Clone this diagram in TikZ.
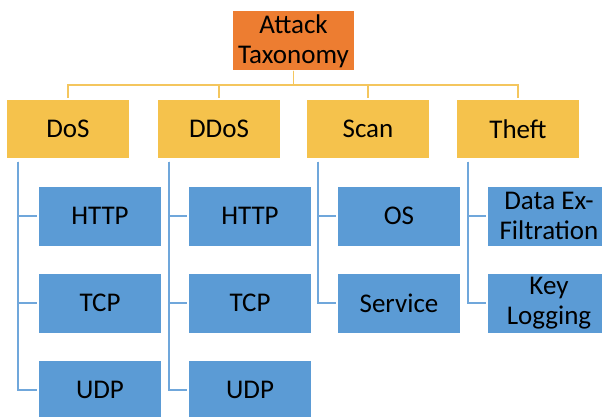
\documentclass[tikz,border=0pt]{standalone}
\usepackage{fontspec}
\setmainfont{Carlito}
\usetikzlibrary{calc}
\definecolor{rootfill}{HTML}{ED7D31}
\definecolor{catfill}{HTML}{F5C24C}
\definecolor{leaffill}{HTML}{5B9BD5}
\definecolor{catline}{HTML}{F4C65E}
\definecolor{leafline}{HTML}{70A7DB}
\tikzset{
  box/.style={rectangle, inner sep=0pt, align=center, text=black,
    font=\fontsize{27}{30}\selectfont, minimum width=122pt},
  rootbox/.style={box, fill=rootfill, minimum width=121pt, minimum height=59pt},
  catbox/.style={box, fill=catfill, minimum height=57pt},
  leafbox/.style={box, fill=leaffill, minimum height=59pt},
  catlink/.style={draw=catline, line width=1.6pt, shorten >=2pt},
  leaflink/.style={draw=leafline, line width=1.6pt, shorten >=2pt},
}
\begin{document}
\begin{tikzpicture}[x=1pt, y=-1pt]
  \clip (0,0) rectangle (602,417);
  \fill[white] (0,0) rectangle (602,417);

  % top of the taxonomy and the four attack categories
  \node[rootbox] (root) at (293.5,41) {Attack\\Taxonomy};
  \node[catbox] (dos)   at (68,129)  {DoS};
  \node[catbox] (ddos)  at (219,129) {DDoS};
  \node[catbox] (scan)  at (368,129) {Scan};
  \node[catbox] (theft) at (518,129) {Theft};

  % leaves of each category
  \node[leafbox] (dos1)  at (100,216) {HTTP};
  \node[leafbox] (dos2)  at (100,303) {TCP};
  \node[leafbox] (dos3)  at (100,390) {UDP};
  \node[leafbox] (ddos1) at (250,216) {HTTP};
  \node[leafbox] (ddos2) at (250,303) {TCP};
  \node[leafbox] (ddos3) at (250,390) {UDP};
  \node[leafbox] (scan1) at (399,216) {OS};
  \node[leafbox] (scan2) at (399,303) {Service};
  \node[leafbox] (theft1) at (549,216) {Data Ex-\\Filtration};
  \node[leafbox] (theft2) at (549,303) {Key\\Logging};

  % bus from the root to the categories
  \coordinate (bar) at (0,85);
  \foreach \c in {dos,ddos,scan,theft}
    \draw[catlink] (root.south) -- (root.south |- bar) -| (\c.north);

  % spines below each category
  \coordinate (dosv)   at ($(dos.south west)+(11,4)$);
  \coordinate (ddosv)  at ($(ddos.south west)+(11,4)$);
  \coordinate (scanv)  at ($(scan.south west)+(11,4)$);
  \coordinate (theftv) at ($(theft.south west)+(11,4)$);

  \foreach \l in {dos1,dos2,dos3}     \draw[leaflink] (dosv) |- (\l.west);
  \foreach \l in {ddos1,ddos2,ddos3}  \draw[leaflink] (ddosv) |- (\l.west);
  \foreach \l in {scan1,scan2}        \draw[leaflink] (scanv) |- (\l.west);
  \foreach \l in {theft1,theft2}      \draw[leaflink] (theftv) |- (\l.west);
\end{tikzpicture}
\end{document}
